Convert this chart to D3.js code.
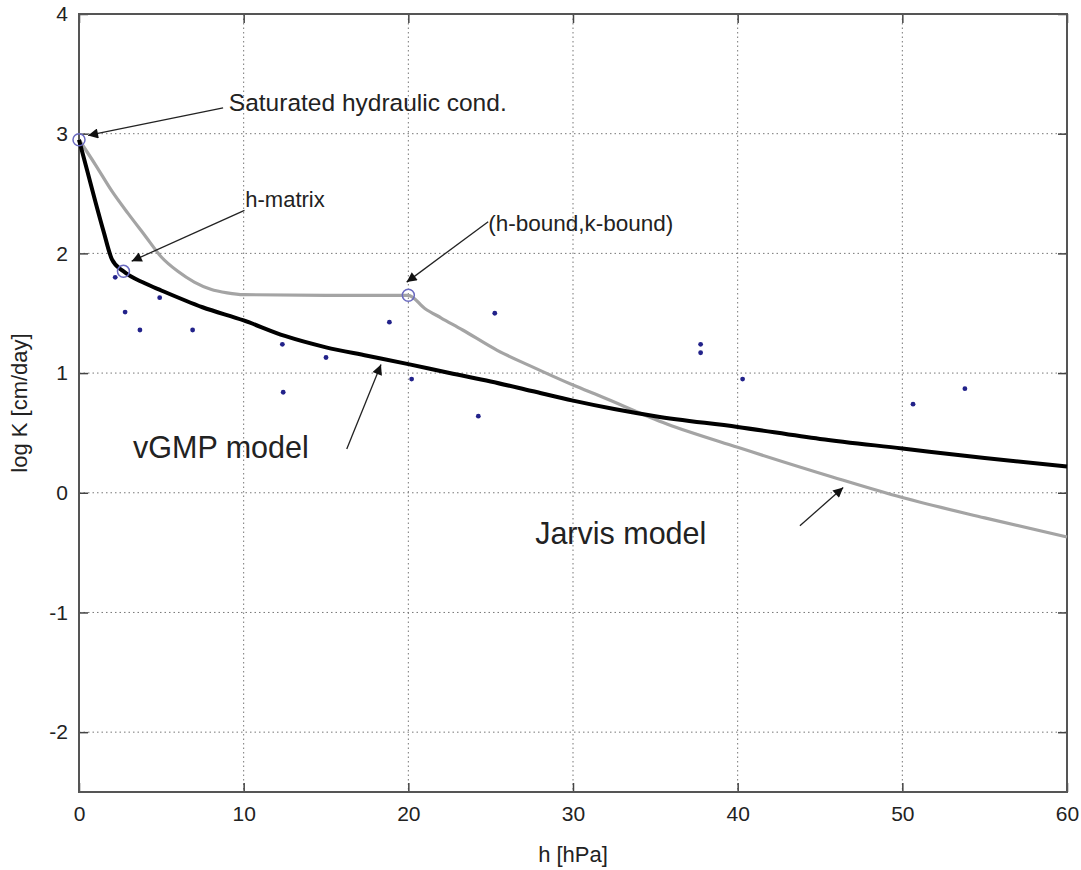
<!DOCTYPE html>
<html>
<head>
<meta charset="utf-8">
<script src="https://cdn.jsdelivr.net/npm/d3@7"></script>
<style>
  body { margin: 0; background: #fff; }
  text { font-family: "Liberation Sans", Arial, sans-serif; fill: #222; }
</style>
</head>
<body>
<div id="chart"></div>
<script>
// vGMP model (black)
var vgH = [0, 0.5, 1, 1.5, 2, 2.7, 4, 5, 7.5, 10, 12.5, 15, 17.5, 20, 22.5, 25, 27.5, 30, 32.5, 35, 40, 45, 50, 55, 60]
var vgK = [2.95, 2.69, 2.43, 2.18, 1.95, 1.85, 1.75, 1.69, 1.55, 1.44, 1.31, 1.215, 1.145, 1.075, 1.0, 0.93, 0.85, 0.77, 0.7, 0.64, 0.55, 0.45, 0.37, 0.29, 0.22]

// Jarvis model (grey)
var jH = [0, 1, 2, 3, 4, 5, 6, 7, 8, 9, 10, 15, 20, 21, 22, 23.3, 25.4, 27.4, 30, 31.6, 35.7, 40, 45.8, 50, 55, 60]
var jK = [2.95, 2.74, 2.52, 2.33, 2.15, 1.97, 1.85, 1.76, 1.70, 1.67, 1.655, 1.65, 1.65, 1.54, 1.46, 1.36, 1.19, 1.06, 0.9, 0.81, 0.575, 0.38, 0.13, -0.04, -0.21, -0.37]

// measured points
var obsH = [2.2, 2.8, 3.7, 4.9, 6.9, 12.35, 12.4, 15.0, 18.85, 20.2, 24.25, 25.25, 37.75, 37.75, 40.3, 50.65, 53.8]
var obsK = [1.80, 1.51, 1.36, 1.63, 1.36, 1.24, 0.84, 1.13, 1.425, 0.95, 0.64, 1.50, 1.24, 1.17, 0.95, 0.74, 0.87]

// parameter circles
var markH = [0, 2.7, 20]
var markK = [2.95, 1.85, 1.65]

var xTicks = [0, 10, 20, 30, 40, 50, 60]
var yTicks = [-2, -1, 0, 1, 2, 3, 4]

// annotations: text, text pos, arrow tail, arrow tip (data units)
var notes = [
  {text: 'Saturated hydraulic cond.', tx: 9.1, ty: 3.19, x0: 8.75, y0: 3.215, x1: 0.55, y1: 2.985, size: 24.5},
  {text: 'h-matrix', tx: 10.1, ty: 2.385, x0: 10.05, y0: 2.36, x1: 3.2, y1: 1.935, size: 22},
  {text: '(h-bound,k-bound)', tx: 24.85, ty: 2.19, x0: 24.85, y0: 2.265, x1: 19.9, y1: 1.76, size: 22.5},
  {text: 'vGMP model', tx: 3.28, ty: 0.29, x0: 16.26, y0: 0.366, x1: 18.34, y1: 1.071, size: 30.5},
  {text: 'Jarvis model', tx: 27.7, ty: -0.43, x0: 43.78, y0: -0.276, x1: 46.41, y1: 0.044, size: 30.5}
]

var W = 1081, H = 870
var m = {left: 79, right: 14, top: 14, bottom: 78}
var w = W - m.left - m.right, h = H - m.top - m.bottom

var svg = d3.select('#chart').append('svg').attr('width', W).attr('height', H)
var g = svg.append('g').attr('transform', 'translate(' + m.left + ',' + m.top + ')')

var x = d3.scaleLinear().domain([0, 60]).range([0, w])
var y = d3.scaleLinear().domain([-2.5, 4]).range([h, 0])

// grid
g.selectAll('.gx').data(xTicks.slice(1, -1)).join('line')
  .attr('x1', d => x(d)).attr('x2', d => x(d)).attr('y1', 0).attr('y2', h)
  .attr('stroke', '#777').attr('stroke-width', 1).attr('stroke-dasharray', '1.5,3')
g.selectAll('.gy').data(yTicks.slice(0, -1)).join('line')
  .attr('y1', d => y(d)).attr('y2', d => y(d)).attr('x1', 0).attr('x2', w)
  .attr('stroke', '#777').attr('stroke-width', 1).attr('stroke-dasharray', '1.5,3')

// axes with inward ticks on all four sides
function styleAxis(sel){
  sel.select('.domain').remove()
  sel.selectAll('line').attr('stroke', '#444').attr('stroke-width', 1.5)
  sel.selectAll('text').attr('font-size', 21).style('font-family', '"Liberation Sans", Arial, sans-serif').attr('fill', '#222')
}
g.append('g').attr('transform', 'translate(0,' + h + ')')
  .call(d3.axisBottom(x).tickValues(xTicks).tickSizeInner(-9).tickPadding(14).tickFormat(d => String(d)))
  .call(styleAxis)
g.append('g')
  .call(d3.axisTop(x).tickValues(xTicks).tickSizeInner(-9).tickFormat(''))
  .call(styleAxis)
g.append('g')
  .call(d3.axisLeft(y).tickValues(yTicks).tickSizeInner(-9).tickPadding(11).tickFormat(d => String(d)))
  .call(styleAxis)
g.append('g').attr('transform', 'translate(' + w + ',0)')
  .call(d3.axisRight(y).tickValues(yTicks).tickSizeInner(-9).tickFormat(''))
  .call(styleAxis)

g.append('rect').attr('width', w).attr('height', h)
  .attr('fill', 'none').attr('stroke', '#555').attr('stroke-width', 2)

// axis labels
g.append('text').attr('x', w / 2).attr('y', h + 70).attr('text-anchor', 'middle')
  .attr('font-size', 22).text('h [hPa]')
g.append('text').attr('transform', 'translate(' + (-52) + ',' + (h / 2) + ') rotate(-90)')
  .attr('text-anchor', 'middle').attr('font-size', 22).text('log K [cm/day]')

// curves
var line = d3.line().x(d => x(d[0])).y(d => y(d[1])).curve(d3.curveMonotoneX)
g.append('path').datum(jH.map((v, i) => [v, jK[i]]))
  .attr('d', line).attr('fill', 'none').attr('stroke', '#a4a4a4').attr('stroke-width', 3.2)
g.append('path').datum(vgH.map((v, i) => [v, vgK[i]]))
  .attr('d', line).attr('fill', 'none').attr('stroke', '#000').attr('stroke-width', 4)

// observations
g.selectAll('.obs').data(obsH).join('circle')
  .attr('cx', d => x(d)).attr('cy', (d, i) => y(obsK[i])).attr('r', 2.4)
  .attr('fill', '#22228a')

// parameter circles
g.selectAll('.mark').data(markH).join('circle')
  .attr('cx', d => x(d)).attr('cy', (d, i) => y(markK[i])).attr('r', 6)
  .attr('fill', 'none').attr('stroke', '#6a6ac0').attr('stroke-width', 1.5)

// annotations
svg.append('defs').append('marker').attr('id', 'arr')
  .attr('viewBox', '0 0 10 10').attr('refX', 10).attr('refY', 5)
  .attr('markerWidth', 13).attr('markerHeight', 10).attr('markerUnits', 'userSpaceOnUse')
  .attr('orient', 'auto')
  .append('path').attr('d', 'M0,0L10,5L0,10Z').attr('fill', '#111')

g.selectAll('.arrow').data(notes).join('line')
  .attr('x1', d => x(d.x0)).attr('y1', d => y(d.y0))
  .attr('x2', d => x(d.x1)).attr('y2', d => y(d.y1))
  .attr('stroke', '#222').attr('stroke-width', 1.3).attr('marker-end', 'url(#arr)')

g.selectAll('.note').data(notes).join('text')
  .attr('x', d => x(d.tx)).attr('y', d => y(d.ty))
  .attr('font-size', d => d.size).text(d => d.text)
</script>
</body>
</html>
